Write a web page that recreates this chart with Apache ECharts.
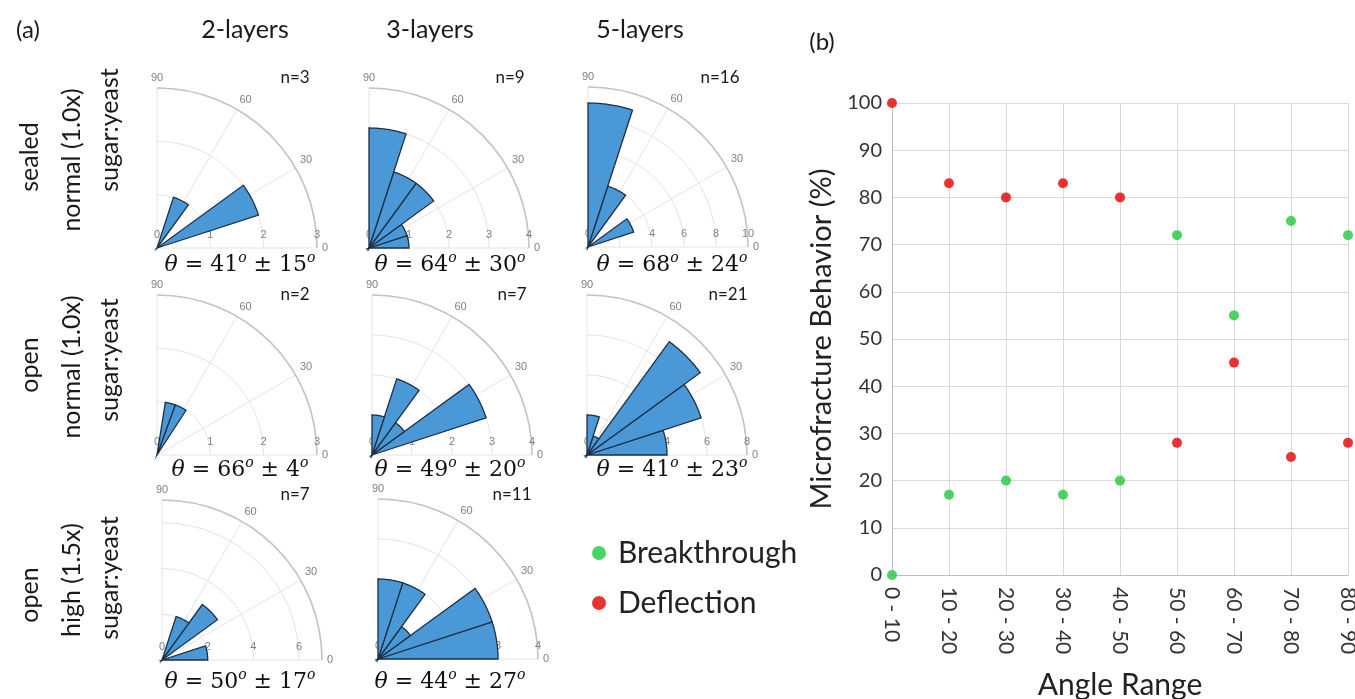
<!DOCTYPE html>
<html><head><meta charset="utf-8">
<script src="https://cdn.jsdelivr.net/npm/echarts@6/dist/echarts.min.js"></script>
<style>html,body{margin:0;padding:0;background:#fff}#c{width:1355px;height:699px}</style>
</head><body><div id="c"></div>
<script>
// ---------- DATA ----------
// polar rose bars: [count, fromAngle, toAngle]
const roseSealed2L = [[2,18,36],[1,54,72]];
const roseSealed3L = [[1,0,18],[1,18,36],[2,36,54],[2,54,72],[3,72,90]];
const roseSealed5L = [[3,18,36],[4,54,72],[9,72,90]];
const roseOpenN2L  = [[1,57,70],[1,70,81]];
const roseOpenN3L  = [[3,18,36],[1,36,54],[2,54,72],[1,72,90]];
const roseOpenN5L  = [[4,0,18],[6,18,36],[7,36,54],[1,54,72],[2,72,90]];
const roseOpenH2L  = [[2,0,18],[3,36,54],[2,54,72]];
const roseOpenH3L  = [[3,0,18],[3,18,36],[1,36,54],[2,54,72],[2,72,90]];
const roseRadiusMax = [3,4,10,3,4,8,7,4];
const roseRadiusStep = [1,1,2,1,1,2,2,1];
const roseCountLabels = ['n=3','n=9','n=16','n=2','n=7','n=21','n=7','n=11'];
const roseThetaMean = [41,64,68,66,49,41,50,44];
const roseThetaStd  = [15,30,24,4,20,23,17,27];
const columnTitles = ['2-layers','3-layers','5-layers'];
const rowTitles = [['sealed','normal (1.0x)','sugar:yeast'],['open','normal (1.0x)','sugar:yeast'],['open','high (1.5x)','sugar:yeast']];

const angleRanges = ['0 - 10','10 - 20','20 - 30','30 - 40','40 - 50','50 - 60','60 - 70','70 - 80','80 - 90'];
const breakthrough = [0,17,20,17,20,72,55,75,72];
const deflection   = [100,83,80,83,80,28,45,25,28];

// ---------- LAYOUT ----------
const roses = [roseSealed2L,roseSealed3L,roseSealed5L,roseOpenN2L,roseOpenN3L,roseOpenN5L,roseOpenH2L,roseOpenH3L];
const centers = [[157,248],[369,248],[588,247],[157,455],[372,455],[587,455],[162,660],[378,659]];
const R = 160;
const FONT = 'Lato';
const BAR = '#4a98d6', EDGE = '#1d3047';

function renderSector(params, api) {
  const v = api.value(0), a0 = api.value(1), a1 = api.value(2);
  const pts = [api.coord([0, a0])];
  const steps = 30;
  for (let k = 0; k <= steps; k++) {
    const a = a0 + (a1 - a0) * k / steps;
    pts.push(api.coord([v, a]));
  }
  return {type:'polygon', shape:{points:pts}, style:{fill:BAR, stroke:EDGE, lineWidth:1.3}};
}

const polar = [], angleAxis = [], radiusAxis = [], series = [];
roses.forEach((d, i) => {
  polar.push({center: centers[i], radius: R});
  angleAxis.push({
    polarIndex: i, type:'value', min:0, max:90, interval:30,
    startAngle:0, endAngle:90, clockwise:false,
    axisLine:{lineStyle:{color:'#c4c4c4', width:1.6}},
    axisTick:{show:false},
    axisLabel:{color:'#808080', fontSize:11, fontFamily:'Liberation Sans', margin:5},
    splitLine:{lineStyle:{color:'#e4e4e4', width:1}}
  });
  radiusAxis.push({
    polarIndex: i, type:'value', min:0, max:roseRadiusMax[i], interval:roseRadiusStep[i],
    axisLine:{show:false}, axisTick:{show:false},
    axisLabel:{color:'#808080', fontSize:11, fontFamily:'Liberation Sans', showMaxLabel: roseRadiusMax[i] % roseRadiusStep[i] === 0},
    splitLine:{lineStyle:{color:'#e4e4e4', width:1}}
  });
  series.push({type:'custom', coordinateSystem:'polar', polarIndex:i, renderItem: renderSector,
    encode:{radius:0, angle:1}, data: d, silent:true, z:3});
});

series.push({type:'scatter', name:'Breakthrough', xAxisIndex:0, yAxisIndex:0, data:breakthrough, symbolSize:10, itemStyle:{color:'#1ec83c'}, z:5});
series.push({type:'scatter', name:'Deflection', xAxisIndex:0, yAxisIndex:0, data:deflection, symbolSize:10, itemStyle:{color:'#e60000'}, z:5});

const graphic = [];
const txt = (x,y,text,size,extra) => graphic.push(Object.assign({type:'text', x, y, style:{text, fontSize:size, fontFamily:FONT, fill:'#1a1a1a', align:'center', verticalAlign:'middle'}}, extra||{}));
txt(28,30,'(a)',24);
txt(822,42,'(b)',24);
const colX = [245,430,640];
columnTitles.forEach((t,j)=>txt(colX[j],30,t,25));
const rowLabelPos = [[[30,157],[72,160],[110,130]],[[30,365],[72,367],[110,360]],[[30,595],[72,580],[110,578]]];
rowTitles.forEach((lines,r)=>lines.forEach((t,k)=>txt(rowLabelPos[r][k][0],rowLabelPos[r][k][1],t,25,{rotation:Math.PI/2})));
const nPos = [[295,78],[510,78],[720,78],[295,295],[512,295],[728,295],[295,495],[512,495]];
roseCountLabels.forEach((t,i)=>txt(nPos[i][0],nPos[i][1],t,17));
const thPos = [[240,265],[450,265],[672,265],[240,470],[450,470],[672,470],[240,682],[450,682]];
roseThetaMean.forEach((m,i)=>{
  graphic.push({type:'text', x:thPos[i][0], y:thPos[i][1], style:{
    text:'{t|θ}{n| = ' + m + '}{o|o}{n| ± ' + roseThetaStd[i] + '}{o|o}',
    align:'center', verticalAlign:'middle',
    rich:{
      t:{fontFamily:'DejaVu Serif', fontStyle:'italic', fontSize:22, fill:'#111'},
      n:{fontFamily:'DejaVu Serif', fontSize:22, fill:'#111'},
      o:{fontFamily:'DejaVu Serif', fontStyle:'italic', fontSize:14, fill:'#111', padding:[0,0,14,0]}
    }}});
});

const option = {
  backgroundColor:'#fff',
  animation:false,
  polar, angleAxis, radiusAxis,
  grid:[{left:892, right:7, top:103, bottom:124, containLabel:false, outerBoundsMode:'none'}],
  xAxis:[{gridIndex:0, type:'category', data:angleRanges, boundaryGap:false,
    axisLine:{lineStyle:{color:'#bfbfbf'}}, axisTick:{show:false},
    axisLabel:{rotate:-90, fontSize:21, fontFamily:FONT, color:'#333', margin:12},
    splitLine:{show:true, lineStyle:{color:'#d9d9d9'}},
    name:'Angle Range', nameLocation:'middle', nameGap:95, nameTextStyle:{fontSize:30, fontFamily:FONT, color:'#222'}}],
  yAxis:[{gridIndex:0, type:'value', min:0, max:100, interval:10,
    axisLine:{show:true, lineStyle:{color:'#bfbfbf'}}, axisTick:{show:false},
    axisLabel:{fontSize:20, fontFamily:FONT, color:'#333', margin:10},
    splitLine:{lineStyle:{color:'#d9d9d9'}},
    name:'Microfracture Behavior (%)', nameLocation:'middle', nameGap:56, nameTextStyle:{fontSize:29, fontFamily:FONT, color:'#222'}}],
  legend:{data:['Breakthrough','Deflection'], orient:'vertical', left:587, top:533, itemGap:20, icon:'circle', itemWidth:14, itemHeight:14,
    textStyle:{fontSize:30, fontFamily:FONT, color:'#222', padding:[0,0,0,7]}},
  graphic,
  series
};
const chart = echarts.init(document.getElementById('c'), null, {renderer:'canvas'});
chart.setOption(option);
</script></body></html>
